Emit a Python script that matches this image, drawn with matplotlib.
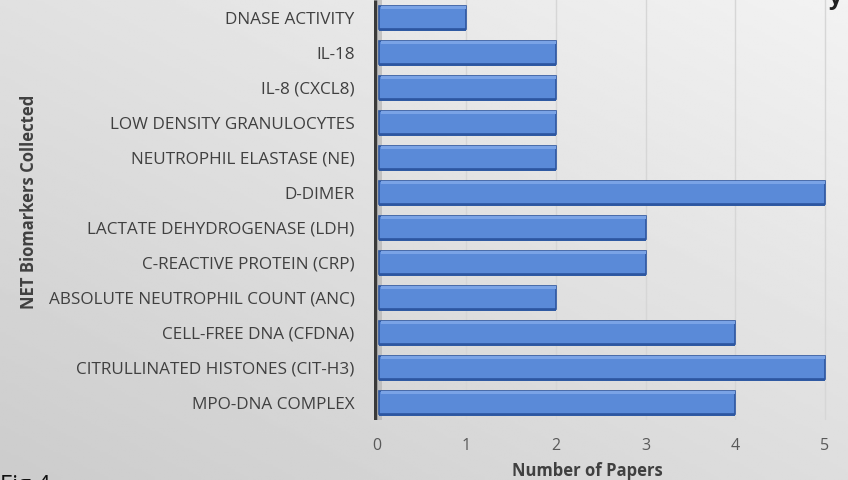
import matplotlib.pyplot as plt
import numpy as np

# NET biomarkers and how many papers collected each (top to bottom)
biomarkers = [
    "DNASE ACTIVITY",
    "IL-18",
    "IL-8 (CXCL8)",
    "LOW DENSITY GRANULOCYTES",
    "NEUTROPHIL ELASTASE (NE)",
    "D-DIMER",
    "LACTATE DEHYDROGENASE (LDH)",
    "C-REACTIVE PROTEIN (CRP)",
    "ABSOLUTE NEUTROPHIL COUNT (ANC)",
    "CELL-FREE DNA (CFDNA)",
    "CITRULLINATED HISTONES (CIT-H3)",
    "MPO-DNA COMPLEX",
]
papers = [1, 2, 2, 2, 2, 5, 3, 3, 2, 4, 5, 4]
x_ticks = [0, 1, 2, 3, 4, 5]

plt.rcParams['font.family'] = ['Open Sans', 'DejaVu Sans']

fig = plt.figure(figsize=(8.48, 4.8), dpi=100)

# soft grey gradient behind everything
bg = fig.add_axes([0, 0, 1, 1], zorder=-10)
gx, gy = np.meshgrid(np.linspace(0, 1, 200), np.linspace(0, 1, 200))
shade = 0.80 + 0.07 * gx + 0.08 * (1 - gy)
bg.imshow(shade, cmap='gray', vmin=0, vmax=1, extent=[0, 1, 0, 1],
          aspect='auto', origin='upper')
bg.axis('off')

ax = fig.add_axes([0.441, 0.125, 0.535, 0.875])
ax.patch.set_alpha(0)

y = np.arange(len(biomarkers))
ax.set_ylim(len(biomarkers) - 0.5, -0.5)
ax.set_xlim(-0.03, 5.03)

for t in x_ticks[1:]:
    ax.axvline(t, color='#d6d6d6', lw=1, zorder=0)

# 3D wall and floor along the value axis
ax.axvspan(-0.03, 0.06, color='#b4b4b4', alpha=0.7, zorder=1, lw=0)
ax.plot([-0.02, -0.02], [len(biomarkers) - 0.5, -0.5],
        color='#3a3a3a', lw=2.5, zorder=2, solid_capstyle='butt')

h = 0.66
widths = [p - 0.03 for p in papers]
# bar shadow (bottom edge), face and top highlight
ax.barh(y + 0.05, widths, height=h, left=0.03, color='#2f5aa3', zorder=3)
ax.barh(y, widths, height=h, left=0.03, color='#5a8ad8',
        edgecolor='#2d56a0', linewidth=1.2, zorder=4)
ax.barh(y - h / 2 + 0.05, [w - 0.02 for w in widths], height=0.08, left=0.05,
        color='#7aa3e6', zorder=5, lw=0)

ax.set_yticks(y)
ax.set_yticklabels(biomarkers, fontsize=12.3, color='#404040')
ax.set_xticks(x_ticks)
ax.set_xticklabels([str(v) for v in x_ticks], fontsize=11.5, color='#595959')
ax.tick_params(length=0)
ax.tick_params(axis='y', pad=14)
ax.tick_params(axis='x', pad=13)
for s in ax.spines.values():
    s.set_visible(False)

ax.set_xlabel('Number of Papers', fontsize=12, fontweight='bold',
              color='#404040')
ax.xaxis.set_label_coords(0.47, -0.099)
fig.text(0.034, 0.579, 'NET Biomarkers Collected', rotation=90,
         fontsize=12, fontweight='bold', color='#404040',
         ha='center', va='center')

# clipped title end and figure number
fig.text(0.992, 1.005, 'y', fontsize=17, fontweight='bold', color='#202020',
         ha='right', va='center')
fig.text(0.0, -0.012, 'Fig 4', fontsize=17, color='#111111',
         ha='left', va='center')

fig.savefig('out.png', dpi=100)
